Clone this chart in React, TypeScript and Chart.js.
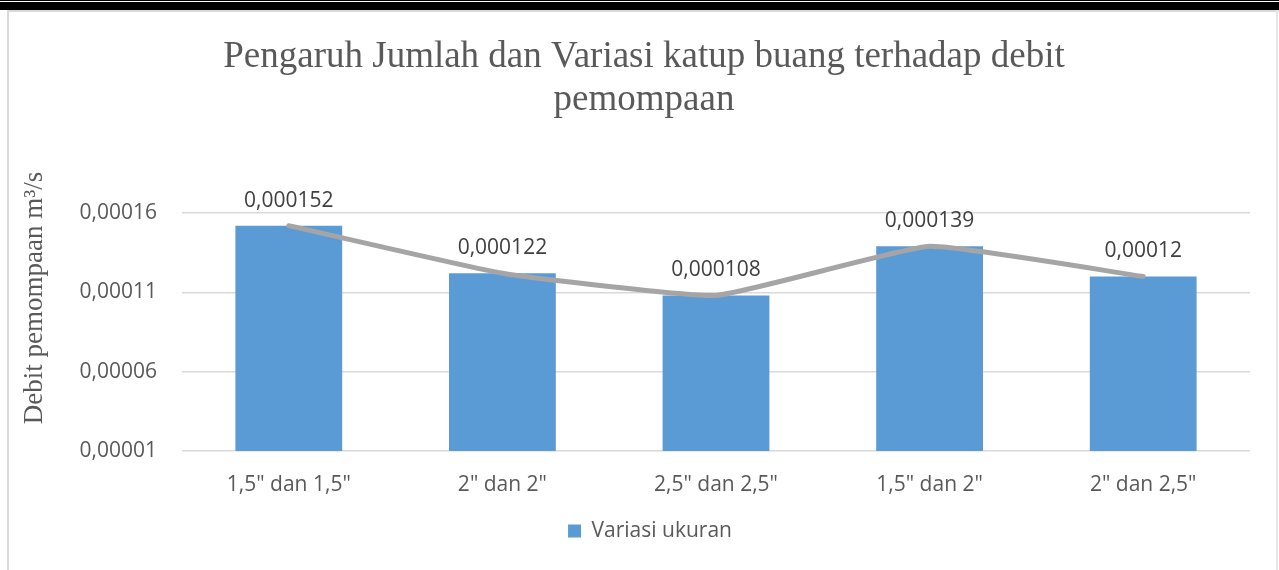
import React, { useEffect, useRef } from "react";
import { Chart, registerables } from "chart.js";

Chart.register(...registerables);

const titleLines = ["Pengaruh Jumlah dan Variasi katup buang terhadap debit", "pemompaan"];
const yAxisTitle = "Debit pemompaan m³/s";
const categories = ['1,5" dan 1,5"', '2" dan 2"', '2,5" dan 2,5"', '1,5" dan 2"', '2" dan 2,5"'];
const barSeriesName = "Variasi ukuran";
const barValues = [0.000152, 0.000122, 0.000108, 0.000139, 0.00012];
const lineValues = [0.000152, 0.000122, 0.000108, 0.000139, 0.00012];
const dataLabels = ["0,000152", "0,000122", "0,000108", "0,000139", "0,00012"];
const yTickValues = [0.00001, 0.00006, 0.00011, 0.00016];
const yTickLabels = ["0,00001", "0,00006", "0,00011", "0,00016"];

const SANS = "'Open Sans', 'Noto Sans', sans-serif";
const SERIF = "'Liberation Serif', 'DejaVu Serif', serif";
const TEXT = "#595959";

const framePlugin = {
  id: "frame",
  afterLayout(chart: any) {
    if (chart.legend) {
      chart.legend.left += 15;
      chart.legend.right += 15;
    }
    if (chart.titleBlock) {
      chart.titleBlock.left += 9;
      chart.titleBlock.right += 9;
    }
  },
  beforeDraw(chart: any) {
    const ctx = chart.ctx;
    const w = chart.width;
    const h = chart.height;
    ctx.save();
    ctx.fillStyle = "#ffffff";
    ctx.fillRect(0, 0, w, h);
    ctx.fillStyle = "#000000";
    ctx.fillRect(0, 0, w, 10);
    ctx.fillStyle = "#ffffff";
    ctx.fillRect(0, 1, w, 1);
    ctx.fillStyle = "#d9d9d9";
    ctx.fillRect(7, 10, 2, h - 10);
    ctx.fillRect(7, 10, w - 7, 2);
    ctx.fillStyle = "#e6e6e6";
    ctx.fillRect(1276, 10, 2, h - 10);
    ctx.restore();
  },
  afterDraw(chart: any) {
    const ctx = chart.ctx;
    ctx.save();
    ctx.translate(35, 298);
    ctx.rotate(-Math.PI / 2);
    ctx.font = `27px ${SERIF}`;
    ctx.fillStyle = TEXT;
    ctx.textAlign = "center";
    ctx.textBaseline = "middle";
    ctx.fillText(yAxisTitle, 0, 0);
    ctx.restore();
  },
};

const labelPlugin = {
  id: "barLabels",
  afterDatasetsDraw(chart: any) {
    const meta = chart.getDatasetMeta(0);
    const ctx = chart.ctx;
    ctx.save();
    ctx.font = `21px ${SANS}`;
    ctx.fillStyle = "#404040";
    ctx.textAlign = "center";
    ctx.textBaseline = "middle";
    meta.data.forEach((el: any, i: number) => {
      ctx.fillText(dataLabels[i], el.x, el.y - 25);
    });
    ctx.restore();
  },
};

export default function App() {
  const ref = useRef<HTMLCanvasElement | null>(null);

  useEffect(() => {
    if (!ref.current) return;
    const chart = new Chart(ref.current, {
      type: "bar",
      data: {
        labels: categories,
        datasets: [
          {
            type: "bar",
            label: barSeriesName,
            data: barValues,
            backgroundColor: "#5b9bd5",
            borderWidth: 0,
            categoryPercentage: 1,
            barPercentage: 0.5,
            order: 1,
          } as any,
          {
            type: "line",
            label: "line",
            data: lineValues,
            borderColor: "#a5a5a5",
            borderWidth: 5,
            pointRadius: 0,
            tension: 0.12,
            borderCapStyle: "round",
            fill: false,
            order: 0,
          } as any,
        ],
      },
      options: {
        responsive: false,
        animation: false,
        layout: { padding: { top: 10, left: 20, right: 29, bottom: 18.5 } },
        plugins: {
          tooltip: { enabled: false },
          title: {
            display: true,
            text: titleLines,
            color: TEXT,
            font: { family: SERIF, size: 37, weight: "normal", lineHeight: 1.17 },
            padding: { top: 25.4, bottom: 91 },
          },
          legend: {
            display: true,
            position: "bottom",
            labels: {
              color: TEXT,
              font: { family: SANS, size: 21 },
              boxWidth: 13,
              boxHeight: 13,
              padding: 10,
              filter: (item: any) => item.datasetIndex === 0,
            },
          },
        },
        scales: {
          x: {
            offset: true,
            grid: { display: false, drawTicks: false },
            border: { display: false },
            ticks: { color: TEXT, font: { family: SANS, size: 21 }, padding: 21, maxRotation: 0 },
            afterFit: (scale: any) => {
              scale.height = 59.5;
            },
          },
          y: {
            min: 0.00001,
            max: 0.00016,
            grid: { color: "#d9d9d9", lineWidth: 1.5, drawTicks: false },
            border: { display: false },
            afterBuildTicks: (scale: any) => {
              scale.ticks = yTickValues.map((v) => ({ value: v }));
            },
            ticks: {
              color: TEXT,
              font: { family: SANS, size: 21 },
              padding: 25,
              callback: (_v: any, i: number) => yTickLabels[i],
            },
            afterFit: (scale: any) => {
              scale.width = 162;
            },
          },
        },
      },
      plugins: [framePlugin, labelPlugin],
    });
    return () => chart.destroy();
  }, []);

  return (
    <div style={{ position: "absolute", left: 0, top: 0, width: 1279, height: 570 }}>
      <canvas ref={ref} width={1279} height={570} style={{ display: "block" }} />
    </div>
  );
}
